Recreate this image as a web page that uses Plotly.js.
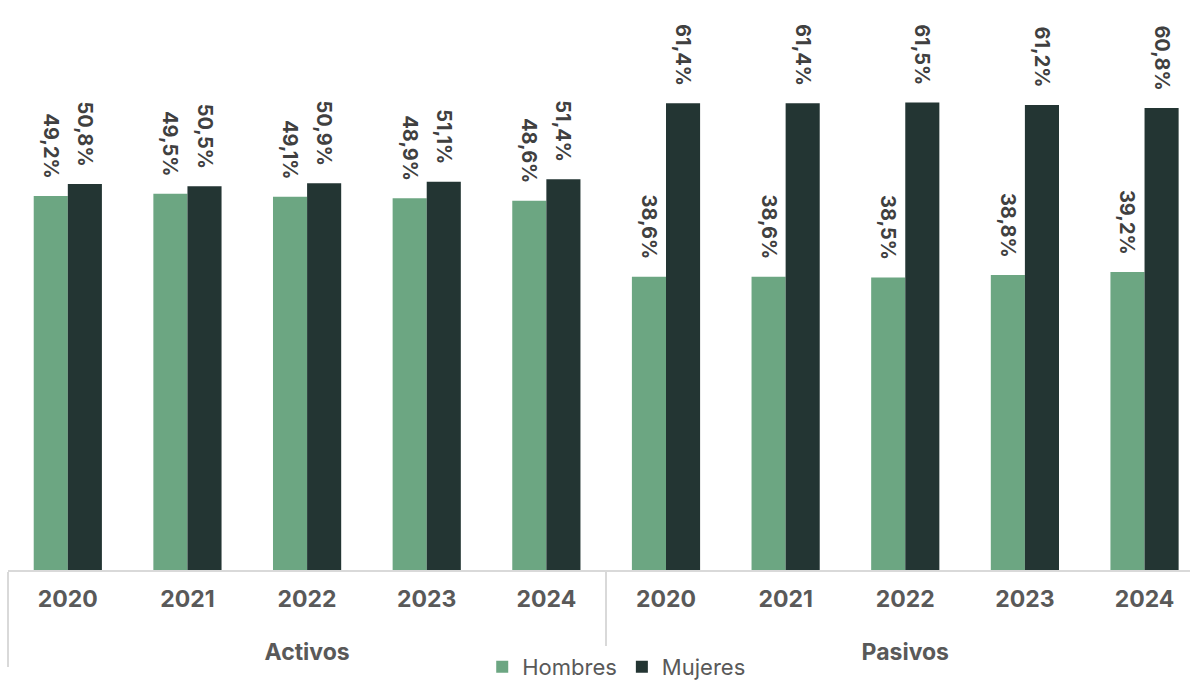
<!DOCTYPE html>
<html>
<head>
<meta charset="utf-8">
<script src="https://cdn.plot.ly/plotly-3.0.1.min.js"></script>
<style>html,body{margin:0;padding:0;background:#fff;}#chart{width:1190px;height:682px;}</style>
</head>
<body>
<div id="chart"></div>
<script>
const groups = ["Activos","Activos","Activos","Activos","Activos","Pasivos","Pasivos","Pasivos","Pasivos","Pasivos"];
const years = ["2020","2021","2022","2023","2024","2020","2021","2022","2023","2024"];
const hombres = [49.2,49.5,49.1,48.9,48.6,38.6,38.6,38.5,38.8,39.2];
const mujeres = [50.8,50.5,50.9,51.1,51.4,61.4,61.4,61.5,61.2,60.8];

const fmt = v => v.toFixed(1).replace('.', ',') + '%' + '\u00a0\u00a0\u00a0';
const labelFont = {family: 'Inter, sans-serif', size: 20, color: '#404040', weight: 700};
// group labels are pushed one line down, as in the reference
const groupLabels = groups.map(g => '<br>' + g);

function trace(name, vals, color) {
  return {
    type: 'bar', name: name, x: [groupLabels, years], y: vals,
    marker: {color: color},
    text: vals.map(fmt), textposition: 'outside', textangle: 90,
    textfont: labelFont, cliponaxis: false, constraintext: 'none',
    hoverinfo: 'skip'
  };
}

const data = [trace('Hombres', hombres, '#6ca682'), trace('Mujeres', mujeres, '#233533')];
const layout = {
  width: 1190, height: 682,
  margin: {l: 8, r: 0, t: 0, b: 112, autoexpand: false},
  paper_bgcolor: '#fff', plot_bgcolor: '#fff',
  barmode: 'group', bargap: 0.43, bargroupgap: 0,
  showlegend: true,
  legend: {orientation: 'h', x: 0.515, xanchor: 'center', yref: 'container', y: 0.022, yanchor: 'middle',
           font: {family: 'Inter, sans-serif', size: 22, color: '#595959'}, itemwidth: 30, tracegroupgap: 0},
  xaxis: {type: 'multicategory', range: [-0.5, 9.38], showline: true, linecolor: '#d9d9d9', linewidth: 2,
          showdividers: true, dividercolor: '#d9d9d9', dividerwidth: 2, ticks: '', automargin: false,
          ticklabelstandoff: 7,
          tickfont: {family: 'Inter, sans-serif', size: 23, color: '#595959', weight: 700}, showgrid: false},
  yaxis: {range: [0, 75], visible: false, showgrid: false, zeroline: false, automargin: false},
  font: {family: 'Inter, sans-serif'}
};
Plotly.newPlot('chart', data, layout, {displayModeBar: false, staticPlot: true});
</script>
</body>
</html>
